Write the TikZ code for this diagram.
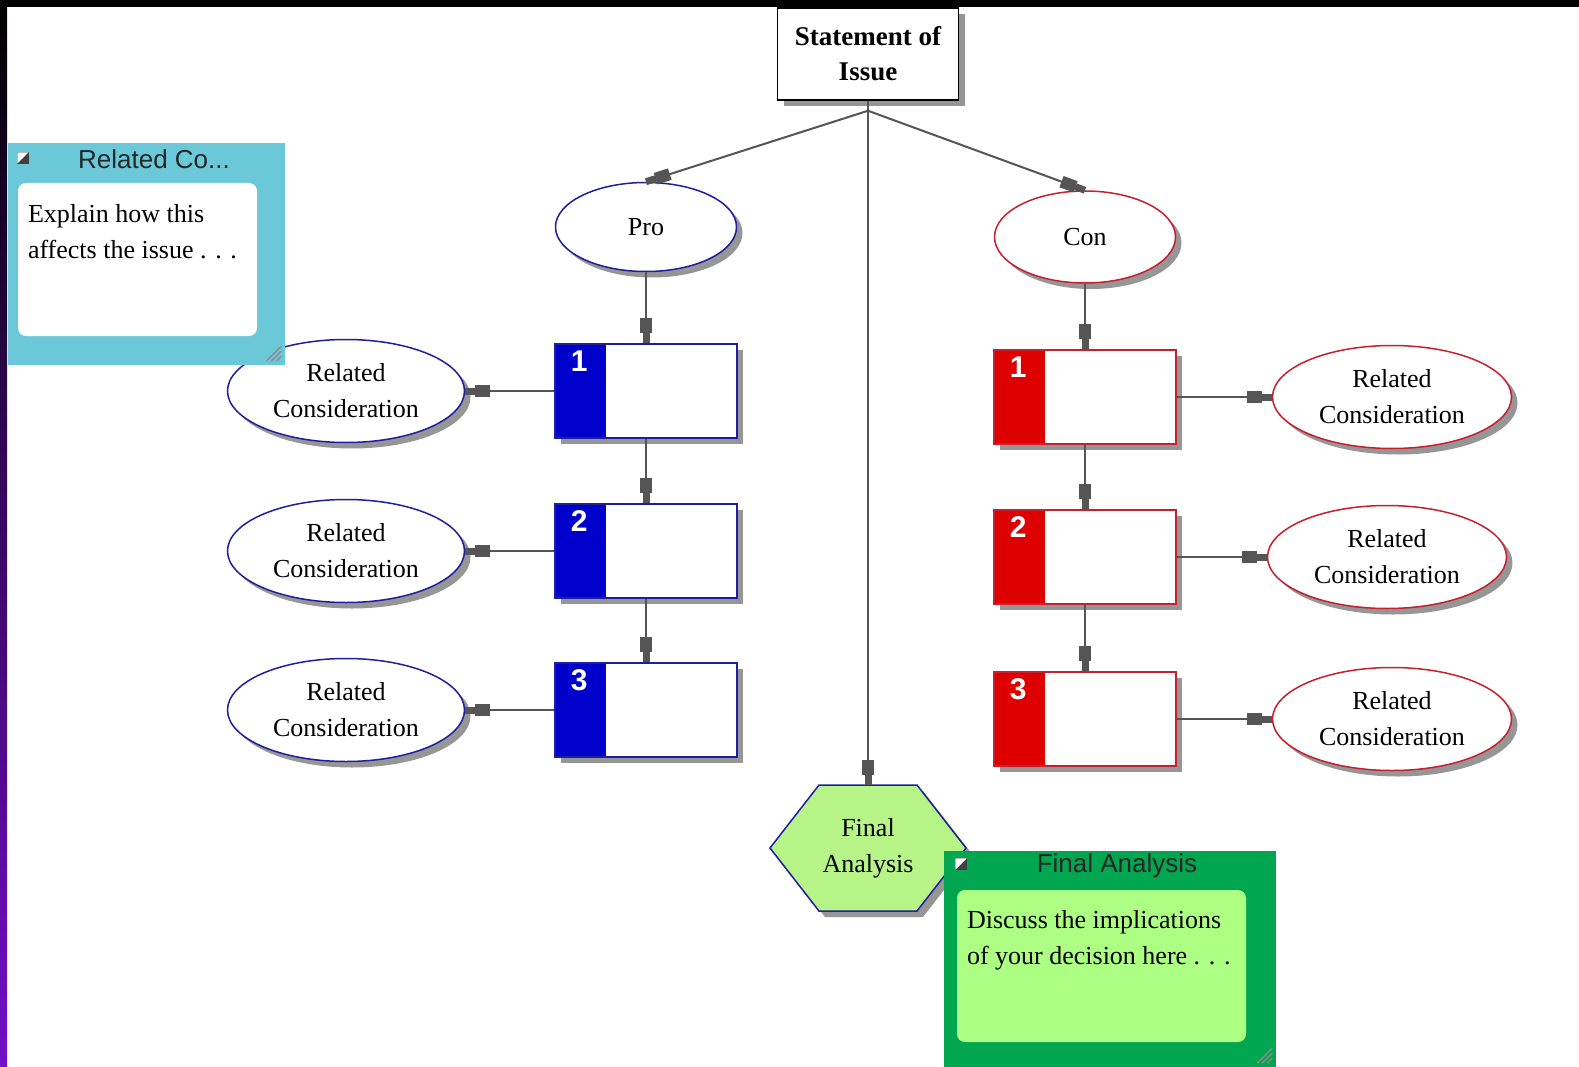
\documentclass[tikz,border=0pt]{standalone}
\usepackage{fontspec}
\setmainfont{Liberation Serif}
\setsansfont{Liberation Sans}
\usetikzlibrary{shapes.geometric,shadows,arrows.meta}

\definecolor{problue}{RGB}{0,0,204}
\definecolor{proedge}{RGB}{30,30,160}
\definecolor{conred}{RGB}{222,0,0}
\definecolor{conedge}{RGB}{200,30,45}
\definecolor{shadowgray}{RGB}{150,150,150}
\definecolor{linkgray}{RGB}{85,85,85}
\definecolor{notecyan}{RGB}{106,200,216}
\definecolor{notegreen}{RGB}{0,166,80}
\definecolor{notelight}{RGB}{172,255,130}
\definecolor{hexgreen}{RGB}{182,244,136}
\definecolor{stripblue}{RGB}{20,24,170}
\definecolor{strippurple}{RGB}{115,15,200}

\tikzset{
  txt/.style={font=\fontsize{26}{36}\selectfont,align=center},
  shadowed/.style={drop shadow={shadow xshift=6pt,shadow yshift=-6pt,fill=shadowgray,opacity=1}},
  oval/.style={ellipse,line width=1.5pt,fill=white,inner sep=0pt,shadowed,txt},
  stepbox/.style={rectangle,line width=1.5pt,fill=white,minimum width=182pt,minimum height=94pt,shadowed},
  tab/.style={path picture={\fill[#1] (path picture bounding box.north west) rectangle ([xshift=51pt]path picture bounding box.south west);}},
  num/.style={font=\sffamily\bfseries\fontsize{30}{30}\selectfont,text=white,anchor=north,inner sep=0pt},
  link/.style={draw=linkgray,line width=2pt,-{Rectangle[length=15pt,width=12pt]Rectangle[length=10pt,width=7pt]}},
  notebox/.style={rectangle,inner sep=0pt},
  notebody/.style={rectangle,rounded corners=8pt,inner sep=0pt},
  notetitle/.style={font=\sffamily\fontsize{26}{30}\selectfont,text=black!85},
  notetext/.style={txt,align=left,anchor=north west,inner sep=0pt},
  noteicon/.style={rectangle,fill=black!75,draw=black!75,minimum size=11pt,inner sep=0pt},
  grip/.style={draw=black!45,line width=1.5pt},
}

\begin{document}
\begin{tikzpicture}[x=1pt,y=-1pt]
  \useasboundingbox (0,0) rectangle (1579,1067);
  \fill[white] (0,0) rectangle (1579,1067);
  \fill[black] (0,0) rectangle (1579,7);
  \shade[top color=black,middle color=stripblue,bottom color=strippurple] (0,0) rectangle (7,1067);

  % statement and the two sides
  \node[rectangle,draw,line width=1.5pt,fill=white,minimum width=181pt,minimum height=92pt,shadowed,
        font=\bfseries\fontsize{27}{35}\selectfont,align=center] (stmt) at (868,54) {Statement of\\Issue};
  \coordinate (hub) at ([yshift=-10pt]stmt.south);

  \node[oval,draw=proedge,minimum width=181pt,minimum height=89pt] (pro) at (646,227) {Pro};
  \node[oval,draw=conedge,minimum width=181pt,minimum height=92pt] (con) at (1085,237) {Con};

  \draw[link] (hub) -- (pro.north);
  \draw[link] (hub) -- (con.north);

  % pro side
  \foreach \n/\y in {1/391,2/551,3/710}{
    \node[stepbox,draw=proedge,tab=problue] (p\n) at (646,\y) {};
    \node[num] (pn\n) at ([xshift=25pt,yshift=-7pt]p\n.north west) {\n};
    \node[oval,draw=proedge,minimum width=237pt,minimum height=103pt] (rp\n) at (346,\y) {Related\\Consideration};
    \draw[link] (p\n.west) -- (rp\n.east);
  }
  \draw[link] (pro.south) -- (p1.north);
  \draw[link] (p1.south) -- (p2.north);
  \draw[link] (p2.south) -- (p3.north);

  % con side
  \foreach \n/\y/\x in {1/397/1392,2/557/1387,3/719/1392}{
    \node[stepbox,draw=conedge,tab=conred] (c\n) at (1085,\y) {};
    \node[num] (cn\n) at ([xshift=25pt,yshift=-7pt]c\n.north west) {\n};
    \node[oval,draw=conedge,minimum width=239pt,minimum height=103pt] (rc\n) at (\x,\y) {Related\\Consideration};
    \draw[link] (c\n.east) -- (rc\n.west);
  }
  \draw[link] (con.south) -- (c1.north);
  \draw[link] (c1.south) -- (c2.north);
  \draw[link] (c2.south) -- (c3.north);

  % final analysis
  \coordinate (fac) at (868,848);
  \filldraw[draw=proedge,fill=hexgreen,line width=1.5pt,shadowed]
    ([xshift=-98pt]fac) -- ([xshift=-49pt,yshift=63pt]fac) -- ([xshift=49pt,yshift=63pt]fac)
    -- ([xshift=98pt]fac) -- ([xshift=49pt,yshift=-63pt]fac) -- ([xshift=-49pt,yshift=-63pt]fac) -- cycle;
  \node[txt,minimum width=196pt,minimum height=126pt] (fa) at (fac) {Final\\Analysis};
  \draw[link] (stmt.south) -- (fa.north);

  % note on the related consideration
  \node[notebox,fill=notecyan,minimum width=277pt,minimum height=222pt] (rcnote) at (146.5,254) {};
  \node[notebody,fill=white,minimum width=239pt,minimum height=153pt] (rcbody) at (137.5,259.5) {};
  \node[notetitle] (rctitle) at (154,159) {Related Co...};
  \node[noteicon] (rcicon) at (23,158) {};
  \fill[white] (rcicon.north west) -- (rcicon.north east) -- (rcicon.south west) -- cycle;
  \node[notetext] (rctext) at ([xshift=10pt,yshift=-21pt]rcbody.north west) {Explain how this\\affects the issue . . .};
  \foreach \d in {5,10,15}
    \draw[grip] ([xshift=-4pt-\d pt,yshift=4pt]rcnote.south east) -- ([xshift=-4pt,yshift=4pt+\d pt]rcnote.south east);

  % note on the final analysis
  \node[notebox,fill=notegreen,minimum width=332pt,minimum height=216pt] (fanote) at (1110,959) {};
  \node[notebody,fill=notelight,minimum width=289pt,minimum height=152pt] (fabody) at (1101.5,966) {};
  \node[notetitle] (fatitle) at (1117,866) {Final Analysis};
  \node[noteicon] (faicon) at (961,864) {};
  \fill[white] (faicon.north west) -- (faicon.north east) -- (faicon.south west) -- cycle;
  \node[notetext] (fatext) at ([xshift=10pt,yshift=-20pt]fabody.north west) {Discuss the implications\\of your decision here . . .};
  \foreach \d in {5,10,15}
    \draw[grip] ([xshift=-4pt-\d pt,yshift=4pt]fanote.south east) -- ([xshift=-4pt,yshift=4pt+\d pt]fanote.south east);
\end{tikzpicture}
\end{document}
